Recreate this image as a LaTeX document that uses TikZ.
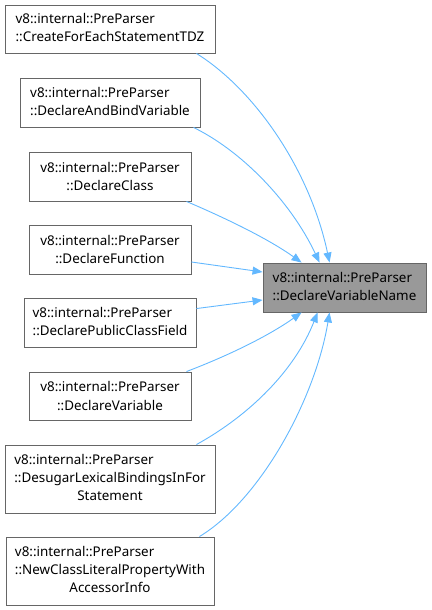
\documentclass[tikz,border=0pt]{standalone}
\usepackage{fontspec}
\setmainfont{Noto Sans}
\usetikzlibrary{arrows.meta}
\definecolor{edgeblue}{HTML}{63B8FF}
\definecolor{boxline}{HTML}{666666}
\definecolor{targetfill}{HTML}{999999}
\tikzset{
  fnbox/.style={draw=boxline, line width=0.9pt, fill=white, inner sep=0pt, align=center, font=\fontsize{13.4}{18.3}\selectfont},
  target/.style={fnbox, fill=targetfill},
  calledge/.style={draw=edgeblue, line width=0.9pt, {Triangle[length=10pt,width=8pt]}-},
}
\newcommand{\lft}[1]{\begin{tabular}{@{}l@{}}#1\end{tabular}}
\begin{document}
\begin{tikzpicture}[x=1pt,y=-1pt]
\useasboundingbox (0,0) rectangle (431,610);
\node[fnbox, minimum width=210pt, minimum height=48pt] (n1) at (110,29) {\lft{v8::internal::PreParser\\::CreateForEachStatementTDZ}};
\node[fnbox, minimum width=180pt, minimum height=49pt] (n2) at (110,102.5) {\lft{v8::internal::PreParser\\::DeclareAndBindVariable}};
\node[fnbox, minimum width=162pt, minimum height=49pt] (n3) at (110,176.5) {v8::internal::PreParser\\::DeclareClass};
\node[fnbox, minimum width=162pt, minimum height=49pt] (n4) at (110,249.5) {v8::internal::PreParser\\::DeclareFunction};
\node[fnbox, minimum width=172pt, minimum height=49pt] (n5) at (110,322.5) {\lft{v8::internal::PreParser\\::DeclarePublicClassField}};
\node[fnbox, minimum width=162pt, minimum height=48pt] (n6) at (110,396) {v8::internal::PreParser\\::DeclareVariable};
\node[fnbox, minimum width=210pt, minimum height=68pt] (n7) at (110,479) {\lft{v8::internal::PreParser\\::DesugarLexicalBindingsInFor\\\multicolumn{1}{@{}c@{}}{Statement}}};
\node[fnbox, minimum width=208pt, minimum height=68pt] (n8) at (110,571) {\lft{v8::internal::PreParser\\::NewClassLiteralPropertyWith\\\multicolumn{1}{@{}c@{}}{AccessorInfo}}};
\node[target, minimum width=163pt, minimum height=49pt] (t) at (344.5,287.5) {\lft{v8::internal::PreParser\\::DeclareVariableName}};

\draw[calledge] ([xshift=67pt]t.north west) .. controls (310,170) and (255,90) .. ([xshift=-19pt]n1.south east);
\draw[calledge] ([xshift=57pt]t.north west) .. controls (290,200) and (240,150) .. ([xshift=-7pt]n2.south east);
\draw[calledge] ([xshift=39pt]t.north west) .. controls (270,240) and (230,220) .. ([xshift=-5pt]n3.south east);
\draw[calledge] ([yshift=15.5pt]t.west) -- ([yshift=-12.5pt]n4.east);
\draw[calledge] ([yshift=-12.5pt]t.west) -- ([yshift=-11pt]n5.north east);
\draw[calledge] ([xshift=39pt]t.south west) .. controls (270,335) and (230,355) .. ([xshift=-5pt]n6.north east);
\draw[calledge] ([xshift=55pt]t.south west) .. controls (295,370) and (250,415) .. ([xshift=-19pt]n7.north east);
\draw[calledge] ([xshift=67pt]t.south west) .. controls (315,400) and (260,500) .. ([xshift=-15pt]n8.north east);
\end{tikzpicture}
\end{document}
